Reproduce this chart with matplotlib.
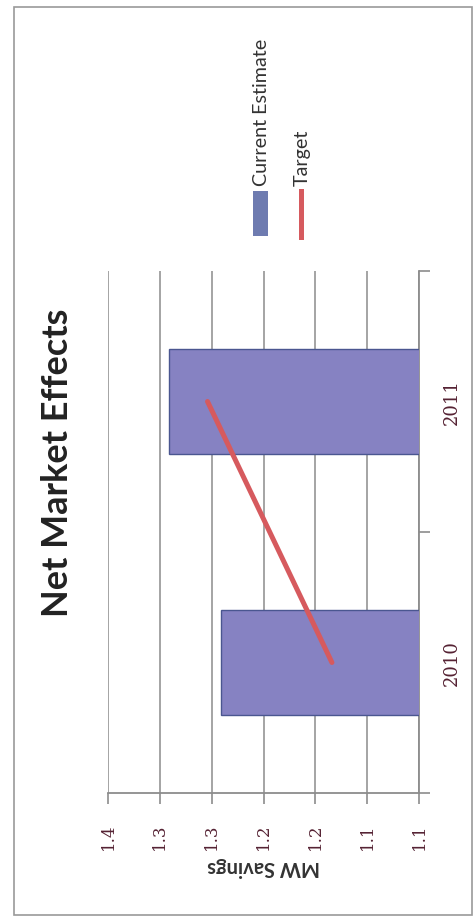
import matplotlib
matplotlib.use("Agg")
import matplotlib.pyplot as plt
from matplotlib.patches import Rectangle
from matplotlib.lines import Line2D
import numpy as np

categories = ['2010', '2011']
current_estimate = [1.291, 1.341]
target = [1.184, 1.304]
value_ticks = [1.10, 1.15, 1.20, 1.25, 1.30, 1.35, 1.40]
value_labels = ['1.1', '1.1', '1.2', '1.2', '1.3', '1.3', '1.4']

W, H = 474, 920
bar_color = '#8682c2'
bar_edge = '#4a5690'
line_color = '#d65a5e'
grid_color = '#8c8c8c'
tick_text = '#552233'
sans = ['Lato', 'DejaVu Sans']
serif = ['DejaVu Serif']

fig = plt.figure(figsize=(W / 100, H / 100), dpi=100)
fig.patch.set_facecolor('white')

# chart frame
fig.add_artist(Rectangle((14 / W, 1 - 916 / H), (472 - 14) / W, (916 - 8) / H,
                         transform=fig.transFigure, fill=False,
                         edgecolor='#9a9a9a', lw=1.2))

ax = fig.add_axes([108 / W, 1 - 794 / H, (419 - 108) / W, (794 - 272) / H])
ypos = np.arange(len(categories))

ax.barh(ypos, current_estimate, height=0.40, color=bar_color,
        edgecolor=bar_edge, lw=1.0, zorder=3)
ax.plot(target, ypos, color=line_color, lw=3.6, solid_capstyle='round', zorder=4)

ax.set_xlim(1.40, 1.10)
ax.set_ylim(-0.5, 1.5)

# value axis (bottom after rotation)
ax.set_xticks(value_ticks)
ax.set_xticklabels(value_labels, rotation=90, family=serif, fontsize=12,
                   color=tick_text)
ax.tick_params(axis='x', length=8, width=1.2, color=grid_color, pad=13)
ax.xaxis.grid(True, color=grid_color, lw=1.1, zorder=0)
ax.set_xlabel('MW Savings', rotation=180, family=sans, fontsize=14.5,
              fontweight='bold', color='#333333', labelpad=5)

# category axis (right after rotation)
ax.yaxis.tick_right()
ax.set_yticks([-0.5, 0.5, 1.5])
ax.set_yticklabels([])
ax.set_yticks(ypos, minor=True)
ax.set_yticklabels(categories, minor=True, rotation=90, va='center',
                   family=serif, fontsize=13, color=tick_text)
ax.tick_params(axis='y', which='major', length=8, width=1.2, color=grid_color)
ax.tick_params(axis='y', which='minor', length=0, pad=17)

for side in ['top', 'left']:
    ax.spines[side].set_visible(False)
for side in ['bottom', 'right']:
    ax.spines[side].set_color(grid_color)
    ax.spines[side].set_linewidth(1.3)
ax.set_axisbelow(True)

# title
fig.text(58 / W, 1 - 463 / H, 'Net Market Effects', rotation=90,
         ha='center', va='center', family=sans, fontsize=26,
         fontweight='bold', color='#222222')

# legend, drawn by hand because it is rotated
fig.add_artist(Rectangle((253 / W, 1 - 237 / H), 15 / W, 45 / H,
                         transform=fig.transFigure, facecolor='#6e7bb0',
                         edgecolor='none'))
fig.text(261.5 / W, 1 - 186 / H, 'Current Estimate', rotation=90,
         ha='center', va='bottom', family=sans, fontsize=14.2, color='#333333')
fig.add_artist(Line2D([301 / W, 301 / W], [1 - 238 / H, 1 - 192 / H],
                      transform=fig.transFigure, color=line_color, lw=3.6))
fig.text(302.5 / W, 1 - 186 / H, 'Target', rotation=90,
         ha='center', va='bottom', family=sans, fontsize=14.2, color='#333333')

fig.savefig('out.png', dpi=100, facecolor='white')
